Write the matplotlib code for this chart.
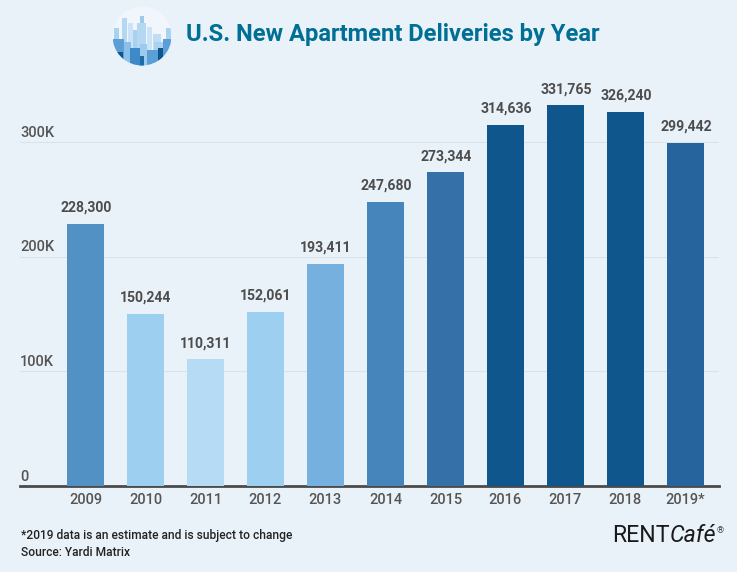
import matplotlib
matplotlib.use("Agg")
import matplotlib.pyplot as plt
from matplotlib.patches import Circle, Rectangle

plt.rcParams["font.family"] = ["Roboto", "DejaVu Sans"]

years = ["2009", "2010", "2011", "2012", "2013", "2014", "2015", "2016", "2017", "2018", "2019*"]
deliveries = [228300, 150244, 110311, 152061, 193411, 247680, 273344, 314636, 331765, 326240, 299442]
bar_colors = ["#5291C4", "#9DCFF0", "#B6DCF5", "#9DCFF0", "#76B0DF", "#4585BB",
              "#3570A8", "#0F568C", "#0F568C", "#0F568C", "#25649C"]
y_ticks = [0, 100000, 200000, 300000]
y_labels = ["0", "100K", "200K", "300K"]

BG = "#EAF2F9"
GREY = "#555555"
W, H = 737, 572

fig = plt.figure(figsize=(W / 100, H / 100), dpi=100, facecolor=BG)

# axes box in pixels: x 20-719, y 86-486
ax = fig.add_axes([20 / W, (H - 486) / H, 699 / W, 400 / H], facecolor="none")
ax.bar(range(len(years)), deliveries, width=0.61, color=bar_colors, zorder=3)
ax.set_xlim(-1.091, 10.559)
ax.set_ylim(0, 348700)

for s in ["top", "left", "right"]:
    ax.spines[s].set_visible(False)
ax.spines["bottom"].set_color("#4A4A4A")
ax.spines["bottom"].set_linewidth(2)

ax.set_xticks(range(len(years)))
ax.set_xticklabels(years, fontsize=10.5, fontweight="medium", color=GREY)
ax.tick_params(axis="x", length=0, pad=5)
ax.set_yticks(y_ticks)
ax.set_yticklabels([])
ax.tick_params(axis="y", length=0)
ax.grid(axis="y", color="#DAE3EA", linewidth=0.8, zorder=0)
ax.set_axisbelow(True)

for val, lab in zip(y_ticks, y_labels):
    ax.annotate(lab, (0, val), xycoords=("axes fraction", "data"), xytext=(0, 1.6),
                textcoords="offset points", fontsize=10.5, color=GREY, fontweight="medium",
                ha="left", va="bottom")

for i, val in enumerate(deliveries):
    ax.annotate(f"{val:,}", (i, val), xytext=(0.4, 6.7), textcoords="offset points",
                fontsize=10.1, fontweight="bold", color="#4D4D4D", ha="center", va="bottom")

fig.text(186 / W, 1 - 34 / H, "U.S. New Apartment Deliveries by Year", fontsize=17.1,
         fontweight="bold", color="#006F95", ha="left", va="center")

fig.text(21 / W, 1 - 535 / H, "*2019 data is an estimate and is subject to change",
         fontsize=8.65, color="#222222", fontweight="medium", ha="left", va="center")
fig.text(21 / W, 1 - 553 / H, "Source: Yardi Matrix", fontsize=8.65, color="#222222",
         fontweight="medium", ha="left", va="center")

# RENTCafe logo
logo = fig.text(612 / W, 1 - 536 / H, "RENT", fontsize=16.7, color="#1A1A1A", ha="left",
                va="center")
fig.canvas.draw()
bb = logo.get_window_extent()
fig.text(bb.x1 / W, 1 - 536 / H, "Café", fontsize=16.7, color="#1A1A1A", ha="left",
         va="center", style="italic")
fig.text(717 / W, 1 - 531 / H, "®", fontsize=6.5, color="#444444", ha="left", va="center")

# round skyline icon next to the title
icon = fig.add_axes([112 / W, 1 - 66 / H, 60 / W, 60 / H])
icon.set_xlim(0, 60)
icon.set_ylim(60, 0)
icon.axis("off")
disc = Circle((30, 30), 29.5, facecolor="#F0F6FB", edgecolor="none")
icon.add_patch(disc)
skyline = [
    (28, 10, 4, "#9CC9EC"), (25, 17, 9, "#B5D8F2"), (10, 12, 5, "#B5D8F2"), (16, 17, 5, "#CBE3F6"),
    (35, 21, 5, "#CBE3F6"), (2, 22, 5, "#A9D2F0"), (54, 22, 5, "#A9D2F0"), (41, 28, 8, "#BFDDF4"),
    (21, 24, 4, "#A9D2F0"), (1, 33, 11, "#5C9FD6"), (12, 36, 7, "#8CC0E8"), (51, 33, 8, "#5C9FD6"),
    (42, 36, 9, "#A9D2F0"), (18, 42, 10, "#3E8AC7"), (28, 38, 7, "#9CCBEE"), (35, 44, 11, "#5C9FD6"),
    (5, 46, 6, "#0F568C"), (46, 42, 5, "#0F568C"), (28, 50, 4, "#1E6BA8"),
]
for x0, top, w, col in skyline:
    r = Rectangle((x0, top), w, 60 - top, facecolor=col, edgecolor="none")
    icon.add_patch(r)
    r.set_clip_path(disc)

fig.savefig("out.png", dpi=100, facecolor=BG)
